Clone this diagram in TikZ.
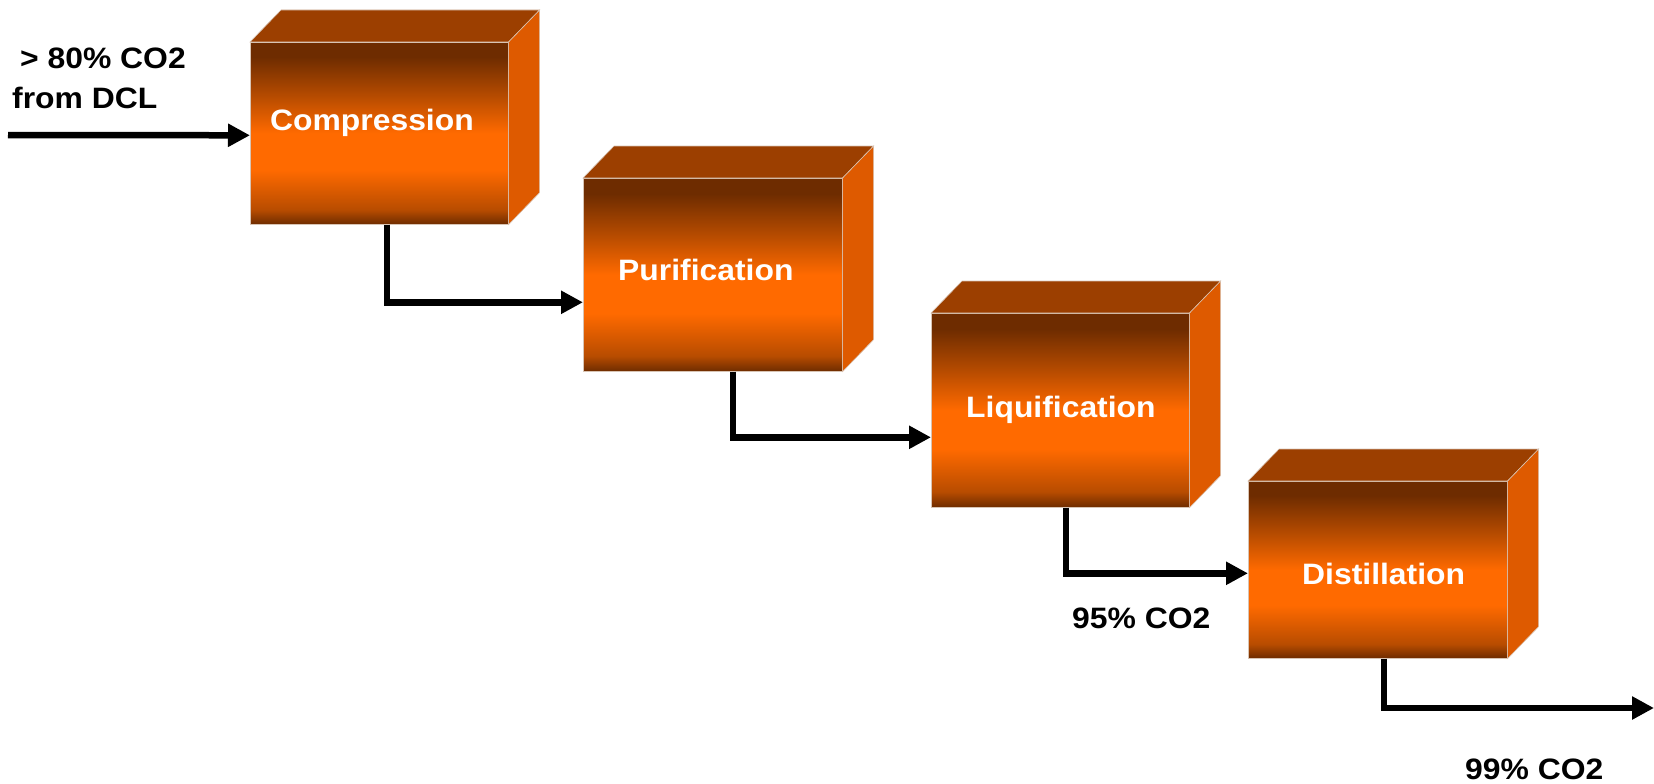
\documentclass[tikz,border=0pt]{standalone}
\usepackage{fontspec}
\setmainfont[FakeStretch=1.08]{Liberation Sans}
\usetikzlibrary{arrows.meta}
\definecolor{fdark}{HTML}{6E2C00}
\definecolor{fmid}{HTML}{B84C00}
\definecolor{forange}{HTML}{FF6A00}
\definecolor{topface}{HTML}{9C3F00}
\definecolor{sideface}{HTML}{DE5A00}
\definecolor{edgecol}{HTML}{D8C4B4}
\pgfdeclareverticalshading{frontshade}{100bp}{color(0bp)=(fdark); color(25bp)=(fdark); color(29bp)=(fmid); color(40bp)=(forange); color(50bp)=(forange); color(60bp)=(fmid); color(71bp)=(fdark); color(100bp)=(fdark)}
\tikzset{
  front/.style={shading=frontshade, draw=edgecol, line width=0.6pt, inner sep=0pt, anchor=north west},
  topf/.style={fill=topface, draw=edgecol, line width=0.6pt},
  sidef/.style={fill=sideface, draw=edgecol, line width=0.6pt},
  boxtext/.style={text=white, font=\bfseries\fontsize{29.5}{34}\selectfont, anchor=base west, inner sep=0pt},
  lbl/.style={text=black, font=\bfseries\fontsize{29.5}{34}\selectfont, anchor=base west, inner sep=0pt},
  flow/.style={line width=6.5pt, line join=miter, -{Triangle[length=22pt,width=22pt]}}
}
\newcommand{\mycube}[1]{%
  \fill[topf] (#1.north west) -- ++(31,-32) -- ([shift={(31,-32)}]#1.north east) -- (#1.north east) -- cycle;
  \fill[sidef] (#1.north east) -- ++(31,-32) -- ([shift={(31,-32)}]#1.south east) -- (#1.south east) -- cycle;
}
\begin{document}
\begin{tikzpicture}[x=1pt,y=-1pt]
\useasboundingbox (0,0) rectangle (1654,784);
% boxes (front faces)
\node[front, minimum width=258pt, minimum height=182pt] (c) at (250,42) {};
\node[front, minimum width=259pt, minimum height=193pt] (p) at (583,178) {};
\node[front, minimum width=258pt, minimum height=194pt] (l) at (931,313) {};
\node[front, minimum width=259pt, minimum height=177pt] (d) at (1248,481) {};
\mycube{c}
\mycube{p}
\mycube{l}
\mycube{d}
% box texts
\node[boxtext] (ct) at (270,130) {Compression};
\node[boxtext] (pt) at (618,280) {Purification};
\node[boxtext] (lt) at (966,417) {Liquification};
\node[boxtext] (dt) at (1302,584) {Distillation};
% labels
\node[lbl] (in1) at (20,69) {> 80\% CO2};
\node[lbl] (in2) at (12,108) {from DCL};
\node[lbl] (o95) at (1072,628) {95\% CO2};
\node[lbl] (o99) at (1465,779) {99\% CO2};
% connectors
\coordinate (src) at (8,135);
\coordinate (dst) at (1654,708);
\draw[flow] (src) -- ([yshift=-2pt]c.west);
\draw[flow] ([xshift=137pt]c.south west) |- ([yshift=-27.5pt]p.west);
\draw[flow] ([xshift=150pt]p.south west) |- ([yshift=-27pt]l.west);
\draw[flow] ([xshift=135pt]l.south west) |- ([yshift=-3.5pt]d.west);
\draw[flow] ([xshift=136pt]d.south west) |- (dst);
\end{tikzpicture}
\end{document}
